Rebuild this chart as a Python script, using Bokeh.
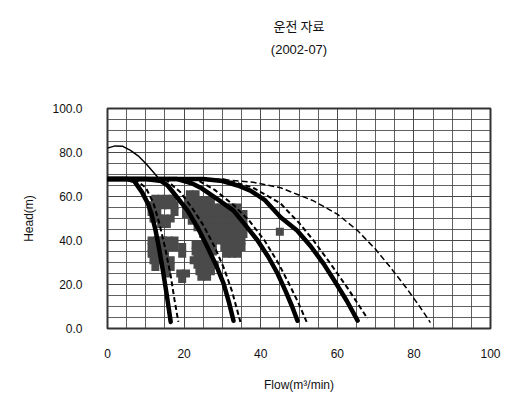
from bokeh.plotting import figure
from bokeh.models import Range1d, SingleIntervalTicker, PrintfTickFormatter, Title
from bokeh.embed import file_html
from bokeh.resources import INLINE

title_line1 = "운전 자료"
title_line2 = "(2002-07)"
x_label = "Flow(m³/min)"
y_label = "Head(m)"

# Pump curves (thick, solid): flow vs head
c1_q = [0, 5, 7, 9, 10.5, 11.5, 12.5, 13.5, 14.5, 15.5, 16.5]
c1_h = [68, 68, 67, 62, 57, 52, 45, 36, 26, 15, 3]
c2_q = [0, 10, 14, 15.7, 18, 20.9, 23.5, 26.1, 28.3, 30.3, 31.7, 32.9]
c2_h = [68, 68, 67, 65, 60, 53.6, 46, 37, 29, 20.5, 12, 3.5]
c3_q = [0, 18, 22, 24.3, 28.5, 32.9, 36, 39.2, 42, 44.4, 46.5, 48.2, 49.6]
c3_h = [68, 68, 66, 64, 59, 53.6, 47, 40, 32.5, 25, 17, 10, 3.5]
c4_q = [0, 25, 30, 34, 37.3, 41, 45.2, 49.5, 53, 56.4, 59.5, 62.5, 65.3]
c4_h = [68, 68, 67, 65, 62.7, 58.5, 50.6, 44.5, 37.5, 29.5, 21, 12.5, 3.6]

# Companion dashed curves
d1_q = [7, 10, 12, 13.5, 15, 16.5, 17.5, 18.5]
d1_h = [68, 64, 57, 48, 37, 24, 13, 3]
d2_q = [15, 19, 22, 25, 28, 30.5, 32.5, 34.7]
d2_h = [68, 62, 55, 47, 37, 27, 17, 3]
d3_q = [24, 28, 33, 37, 41, 44.5, 47.5, 50, 52]
d3_h = [67, 63, 56, 49, 40, 30, 20, 11, 3]
d4_q = [30, 38, 45.2, 50, 53.8, 58, 62.6, 67.9]
d4_h = [68, 64, 56.8, 48, 40, 30, 18.6, 4.5]
outer_q = [28, 38, 45.2, 53.8, 60, 65.3, 70, 73.9, 78, 81.5, 84.3]
outer_h = [68, 66.5, 64, 58, 52, 44.5, 36, 27.7, 18.5, 10, 2.7]

# Thin curve with shut-off head ~82
thin_q = [0, 2, 4, 6, 8, 10, 12, 13.5]
thin_h = [82, 83, 82.8, 81, 78.5, 75, 71, 68]

# Operating data points
op_q = [
    12.5, 14, 15.5, 17,
    11.5, 13, 14.5, 16, 17.5,
    11.5, 13, 17.5,
    12, 13.5, 15, 16.5,
    14, 15.5,
    11.5, 13, 14.5, 16, 17.5,
    11.5, 13, 14.5, 16, 17.5, 19.5,
    11.5, 13, 15, 19.5,
    12, 13.5, 15, 16.5, 22.5, 24,
    12.5, 15, 16.5,
    15.5, 19, 20.5,
    19.5,
    23, 24.5, 26, 27.5,
    23, 24.5, 26, 27.5,
    23.5, 25, 26.5,
    23.5, 25, 26.5, 28,
    24, 25.5, 27,
    24.5, 26,
    21.5, 23,
    21, 22.5, 24, 25.5, 27,
    20.5, 22, 23.5, 25, 26.5, 28, 29.5, 31, 32.5, 34,
    20.5, 22, 23.5, 25, 26.5, 28, 29.5, 31, 32.5, 34, 35.5,
    22, 23.5, 25, 26.5, 28, 29.5, 31, 32.5, 34, 35.5,
    23.5, 25, 26.5, 28, 29.5, 31, 32.5, 34, 35.5,
    25, 26.5, 28, 29.5, 31, 32.5, 34, 35.5,
    26, 27.5, 29, 30.5, 32, 33.5, 35,
    30.5, 32, 33.5, 35,
    31, 32.5, 34,
    45,
]
op_h = [
    59, 59, 59, 59,
    56, 56, 56, 56, 56,
    53, 53, 53,
    50, 50, 50, 50,
    47.5, 47.5,
    40, 40, 40, 40, 40,
    37, 37, 37, 37, 37, 37,
    34, 34, 34, 34,
    31, 31, 31, 31, 31, 31,
    28, 28, 28,
    25, 25, 25,
    22.5,
    38, 38, 38, 38,
    35, 35, 35, 35,
    32, 32, 32,
    29, 29, 29, 29,
    26, 26, 26,
    23.5, 23.5,
    61, 61,
    58, 58, 58, 58, 58,
    55, 55, 55, 55, 55, 55, 55, 55, 55, 55,
    52, 52, 52, 52, 52, 52, 52, 52, 52, 52, 52,
    49, 49, 49, 49, 49, 49, 49, 49, 49, 49,
    46, 46, 46, 46, 46, 46, 46, 46, 46,
    43, 43, 43, 43, 43, 43, 43, 43,
    40, 40, 40, 40, 40, 40, 40,
    37, 37, 37, 37,
    34, 34, 34,
    44,
]

FONT = "Liberation Sans"

p = figure(width=521, height=420, output_backend="svg", toolbar_location=None,
           x_range=Range1d(0, 100), y_range=Range1d(0, 100),
           min_border_left=107, min_border_right=31, min_border_top=108, min_border_bottom=92)
p.title = None

p.background_fill_color = "white"
p.border_fill_color = "white"
p.outline_line_color = "#333333"
p.outline_line_width = 2

for ax in (p.xaxis[0], p.yaxis[0]):
    ax.axis_line_color = None
    ax.major_tick_line_color = None
    ax.minor_tick_line_color = None
    ax.major_label_text_font = FONT
    ax.major_label_text_font_size = "12px"
    ax.major_label_text_color = "#111111"
    ax.axis_label_text_font = FONT
    ax.axis_label_text_font_size = "12px"
    ax.axis_label_text_font_style = "normal"
    ax.axis_label_text_color = "#111111"

p.xaxis.ticker = SingleIntervalTicker(interval=20, num_minor_ticks=4)
p.yaxis.ticker = SingleIntervalTicker(interval=20, num_minor_ticks=4)
p.yaxis.formatter = PrintfTickFormatter(format="%.1f")
p.xaxis.major_label_standoff = 14
p.yaxis.major_label_standoff = 19
p.xaxis.axis_label = x_label
p.yaxis.axis_label = y_label
p.xaxis.axis_label_standoff = 17
p.yaxis.axis_label_standoff = 13

for g in (p.xgrid[0], p.ygrid[0]):
    g.grid_line_color = "#444444"
    g.grid_line_width = 1
    g.grid_line_alpha = 0.85
    g.minor_grid_line_color = "#444444"
    g.minor_grid_line_width = 1
    g.minor_grid_line_alpha = 0.85

p.scatter(op_q, op_h, marker="square", size=8, fill_color="#4a4a4a", line_color=None)

for q, h in ((d1_q, d1_h), (d2_q, d2_h), (d3_q, d3_h), (d4_q, d4_h)):
    p.line(q, h, line_color="black", line_width=2, line_dash="5 3")
p.line(outer_q, outer_h, line_color="black", line_width=1.5, line_dash="6 3")
p.line(thin_q, thin_h, line_color="black", line_width=1.5)
for q, h in ((c1_q, c1_h), (c2_q, c2_h), (c3_q, c3_h), (c4_q, c4_h)):
    p.line(q, h, line_color="black", line_width=4.5, line_join="round", line_cap="round")

# Titles stacked above the frame (first added is nearest the frame)
p.add_layout(Title(text=" ", text_font_size="31px", align="center"), "above")
p.add_layout(Title(text=title_line2, text_font=FONT, text_font_size="13px", text_font_style="normal",
                   text_color="#111111", align="center", offset=-39), "above")
p.add_layout(Title(text=title_line1, text_font="Noto Sans CJK KR", text_font_size="13px",
                   text_font_style="normal", text_color="#111111", align="center", offset=-39,
                   standoff=0), "above")

open("out.html", "w").write(file_html(p, INLINE))
